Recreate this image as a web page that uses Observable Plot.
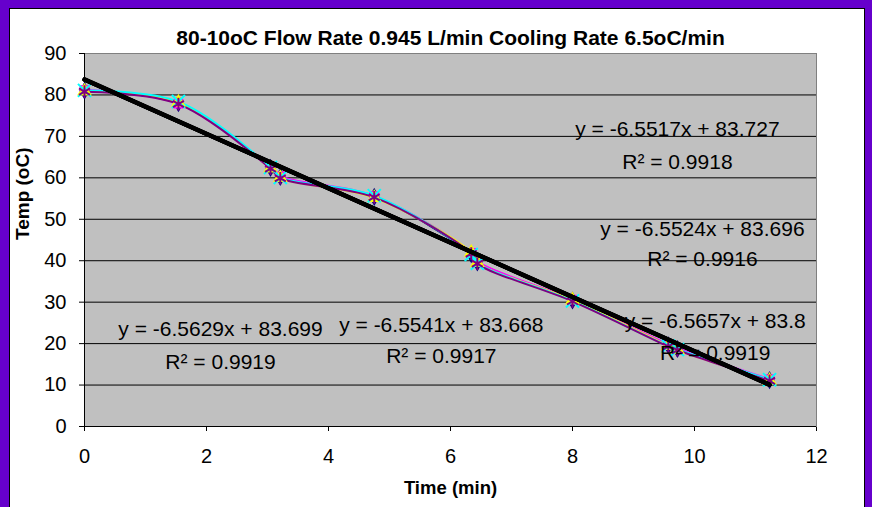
<!DOCTYPE html>
<html>
<head>
<meta charset="utf-8">
<script src="https://cdn.jsdelivr.net/npm/d3@7"></script>
<script src="https://cdn.jsdelivr.net/npm/@observablehq/plot@0.6"></script>
<style>
  html, body { margin: 0; padding: 0; background: #fff; }
  #page { position: relative; width: 872px; height: 507px; background: #6600CC; overflow: hidden; }
  #inner { position: absolute; left: 9px; top: 8px; width: 854px; height: 520px; background: #fff; border: 1px solid #000; }
  #chart { position: absolute; left: 0; top: 0; }
</style>
</head>
<body>
<div id="page"><div id="inner"></div><div id="chart"></div></div>
<script>
// ---- data ----
const title = "80-10oC Flow Rate 0.945 L/min Cooling Rate 6.5oC/min";
const xLabel = "Time (min)";
const yLabel = "Temp (oC)";
const xTicks = [0, 2, 4, 6, 8, 10, 12];
const yTicks = [0, 10, 20, 30, 40, 50, 60, 70, 80, 90];

const time = [0, 1.54, 3.05, 3.21, 4.75, 6.34, 6.44, 8.0, 9.57, 9.72, 11.23];
const run1 = [81.0, 78.0, 62.4, 60.2, 55.4, 41.6, 39.6, 30.4, 19.6, 18.7, 11.2];
const run2 = [81.2, 77.9, 62.6, 60.4, 55.6, 41.9, 39.8, 30.6, 19.8, 18.9, 11.4];
const run3 = [80.9, 78.2, 62.3, 60.0, 55.2, 42.0, 39.5, 30.5, 19.5, 18.5, 11.1];
const run4 = [81.1, 78.4, 62.5, 60.1, 55.7, 41.5, 39.4, 30.3, 19.4, 18.6, 11.3];
const run5 = [80.8, 77.8, 62.2, 59.9, 55.3, 41.7, 39.3, 30.2, 19.3, 18.4, 11.0];
const seriesNames = ["Run 1", "Run 2", "Run 3", "Run 4", "Run 5"];
const seriesValues = [run1, run2, run3, run4, run5];

// trendline equations shown on the chart
const slopes = [-6.5629, -6.5541, -6.5517, -6.5524, -6.5657];
const intercepts = [83.699, 83.668, 83.727, 83.696, 83.8];
const r2 = ["0.9919", "0.9917", "0.9918", "0.9916", "0.9919"];
// label anchors (data units)
const eqX = [2.23, 5.85, 9.72, 10.13, 10.34];
const eqY = [23.4, 24.4, 71.7, 47.5, 25.3];
const r2Y = [15.4, 16.9, 63.7, 40.3, 17.6];

// ---- styles ----
const colors = ["#000080", "#FF00FF", "#FFFF00", "#00FFFF", "#800080"];
const symbols = ["diamond", "square", "triangle", "times", "asterisk"];
const filled = [true, true, true, false, false];

const rows = seriesNames.flatMap((s, i) => time.map((t, j) => ({series: s, time: t, temp: seriesValues[i][j]})));
const tMax = d3.max(time);
const trend = slopes.flatMap((m, i) => [
  {eq: i, time: 0, temp: intercepts[i]},
  {eq: i, time: tMax, temp: m * tMax + intercepts[i]}
]);
const eqLabels = slopes.map((m, i) => ({
  x: eqX[i], y: eqY[i], yR: r2Y[i],
  eq: `y = ${m}x + ${intercepts[i]}`,
  r: `R\u00B2 = ${r2[i]}`
}));

const marks = [
  Plot.frame({fill: "#C0C0C0", stroke: "#808080"}),
  Plot.ruleY(yTicks.filter(v => v > 0 && v < 90), {stroke: "#000", strokeWidth: 1}),
  Plot.ruleY([0], {stroke: "#000"}),
  Plot.ruleX([0], {stroke: "#000"})
];
seriesNames.forEach((s, i) => {
  marks.push(Plot.line(rows.filter(d => d.series === s), {
    x: "time", y: "temp", stroke: colors[i], strokeWidth: 2, curve: "catmull-rom"
  }));
});
seriesNames.forEach((s, i) => {
  const data = rows.filter(d => d.series === s);
  marks.push(Plot.dot(data, filled[i]
    ? {x: "time", y: "temp", symbol: symbols[i], fill: colors[i], r: 5.5}
    : {x: "time", y: "temp", symbol: symbols[i], stroke: colors[i], strokeWidth: 2, r: 6}));
});
marks.push(Plot.line(trend, {x: "time", y: "temp", z: "eq", stroke: "#000", strokeWidth: 4}));
marks.push(Plot.text(eqLabels, {x: "x", y: "y", text: "eq", fontSize: 21, fill: "#000"}));
marks.push(Plot.text(eqLabels, {x: "x", y: "yR", text: "r", fontSize: 21, fill: "#000"}));
marks.push(Plot.text([title], {frameAnchor: "top", dy: -23, fontSize: 21, fontWeight: "bold", fill: "#000"}));
marks.push(Plot.text([xLabel], {frameAnchor: "bottom", dy: 67, fontSize: 18.5, fontWeight: "bold", fill: "#000"}));
marks.push(Plot.text([yLabel], {frameAnchor: "left", dx: -62, rotate: -90, fontSize: 19, fontWeight: "bold", fill: "#000"}));

const chart = Plot.plot({
  width: 872,
  height: 507,
  marginLeft: 84,
  marginRight: 56,
  marginTop: 53,
  marginBottom: 81,
  style: {fontFamily: "'Liberation Sans', Arial, sans-serif", fontSize: "20px", background: "transparent", color: "#000", overflow: "visible"},
  x: {domain: [0, 12], ticks: xTicks, tickSize: 5, tickPadding: 17, label: null},
  y: {domain: [0, 90], ticks: yTicks, tickSize: 5, tickPadding: 13, label: null},
  marks
});
document.getElementById("chart").appendChild(chart);
</script>
</body>
</html>
